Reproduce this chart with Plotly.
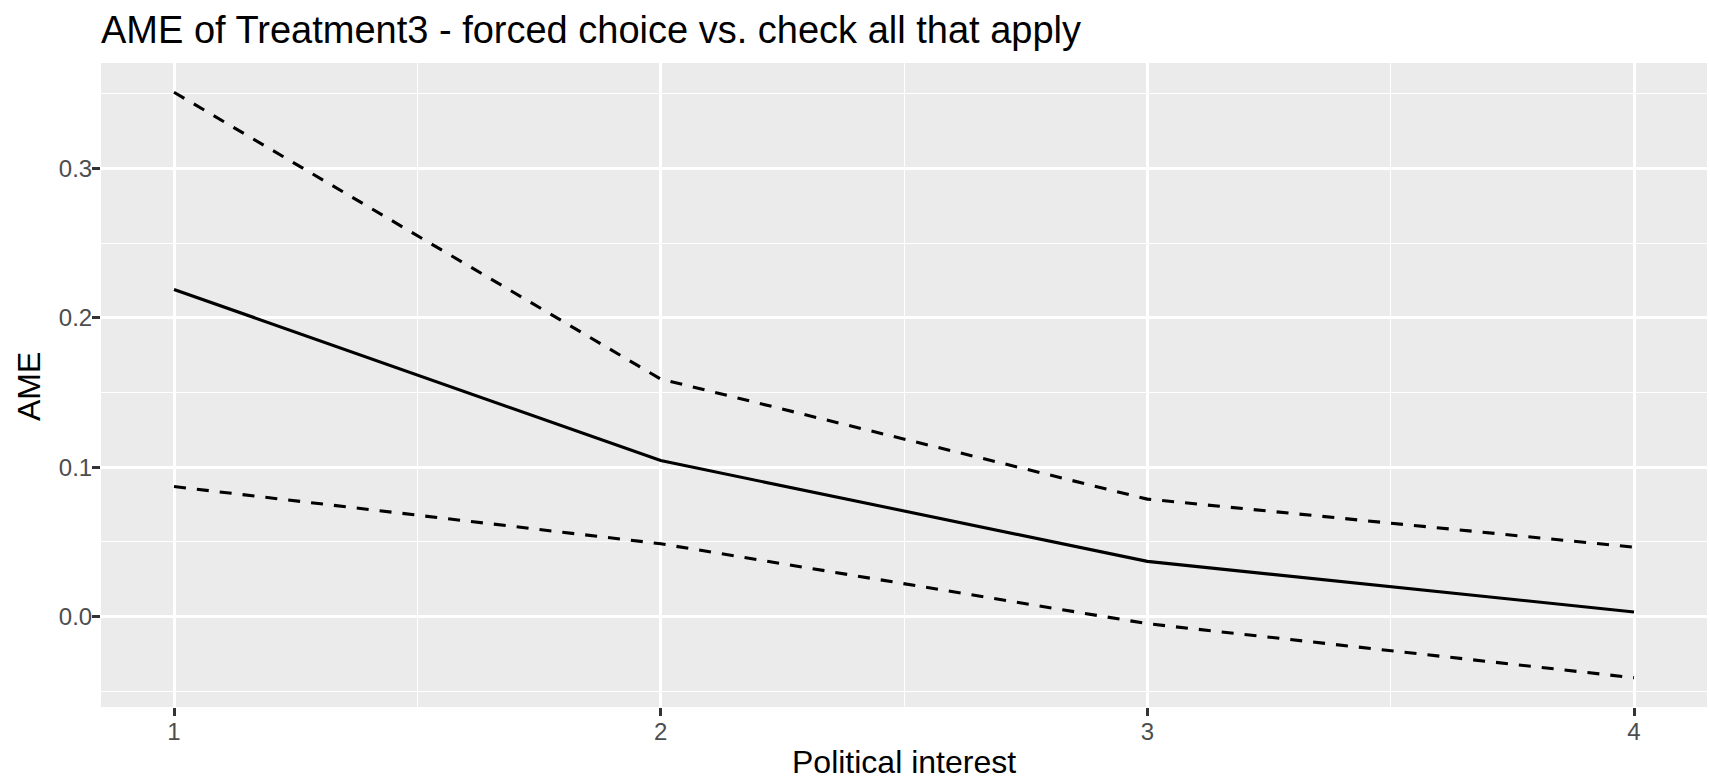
import plotly.graph_objects as go

# Political interest levels and the estimated AME with its confidence bounds
interest = [1, 2, 3, 4]
ame = [0.219, 0.1044, 0.0369, 0.003]
upper = [0.351, 0.159, 0.0786, 0.0464]
lower = [0.087, 0.0487, -0.0048, -0.041]

y_ticks = [0.0, 0.1, 0.2, 0.3]
y_tick_text = ["0.0", "0.1", "0.2", "0.3"]

FONT = "Liberation Sans, Arial, Helvetica, sans-serif"
LINE_W = 3.1
GRID_W = 2.8
DASH = "12px,11px"

W, H = 1710, 780
M_L, M_R, M_T, M_B = 101, 3, 63, 73
PANEL_H = H - M_T - M_B

# ggplot-like 5% expansion of the data range
lo = min(lower)
hi = max(upper)
pad_y = 0.05 * (hi - lo)
pad_x = 0.05 * (max(interest) - min(interest))

fig = go.Figure()
fig.add_trace(go.Scatter(x=interest, y=upper, mode="lines",
                         line=dict(color="black", width=LINE_W, dash=DASH),
                         showlegend=False, hoverinfo="skip"))
fig.add_trace(go.Scatter(x=interest, y=ame, mode="lines",
                         line=dict(color="black", width=LINE_W),
                         showlegend=False))
fig.add_trace(go.Scatter(x=interest, y=lower, mode="lines",
                         line=dict(color="black", width=LINE_W, dash=DASH),
                         showlegend=False, hoverinfo="skip"))

axis_common = dict(
    showgrid=True, gridcolor="white", gridwidth=GRID_W,
    zeroline=False, showline=False, automargin=False,
    ticks="outside", ticklen=8, tickwidth=GRID_W, tickcolor="#333333",
    tickfont=dict(size=24, color="#4D4D4D", family=FONT),
)

fig.update_layout(
    width=W, height=H,
    margin=dict(l=M_L, r=M_R, t=M_T, b=M_B, pad=0, autoexpand=False),
    paper_bgcolor="white",
    plot_bgcolor="#EBEBEB",
    font=dict(family=FONT, color="black"),
    title=dict(text="AME of Treatment3 - forced choice vs. check all that apply",
               x=M_L / W, xref="container", xanchor="left",
               y=1 - 30 / H, yref="container", yanchor="middle",
               font=dict(size=38, color="black", family=FONT)),
    xaxis=dict(
        range=[min(interest) - pad_x, max(interest) + pad_x],
        tickvals=interest, ticktext=[str(v) for v in interest],
        minor=dict(dtick=0.5, tick0=0.5, showgrid=True, gridcolor="white", gridwidth=1.4, ticks=""),
        ticklabelstandoff=-5,
        **axis_common,
    ),
    yaxis=dict(
        range=[lo - pad_y, hi + pad_y],
        tickvals=y_ticks, ticktext=y_tick_text,
        minor=dict(dtick=0.05, tick0=0.05, showgrid=True, gridcolor="white", gridwidth=1.4, ticks=""),
        ticklabelstandoff=-5,
        **axis_common,
    ),
    annotations=[
        dict(text="Political interest", xref="paper", yref="paper",
             x=0.5, y=-(762 - (H - M_B)) / PANEL_H,
             xanchor="center", yanchor="middle", showarrow=False,
             font=dict(size=32, color="black", family=FONT)),
        dict(text="AME", xref="paper", yref="paper",
             x=-(M_L - 29) / (W - M_L - M_R), y=1 - (387 - M_T) / PANEL_H,
             xanchor="center", yanchor="middle", textangle=-90, showarrow=False,
             font=dict(size=32, color="black", family=FONT)),
    ],
)

fig.write_html("out.html")
